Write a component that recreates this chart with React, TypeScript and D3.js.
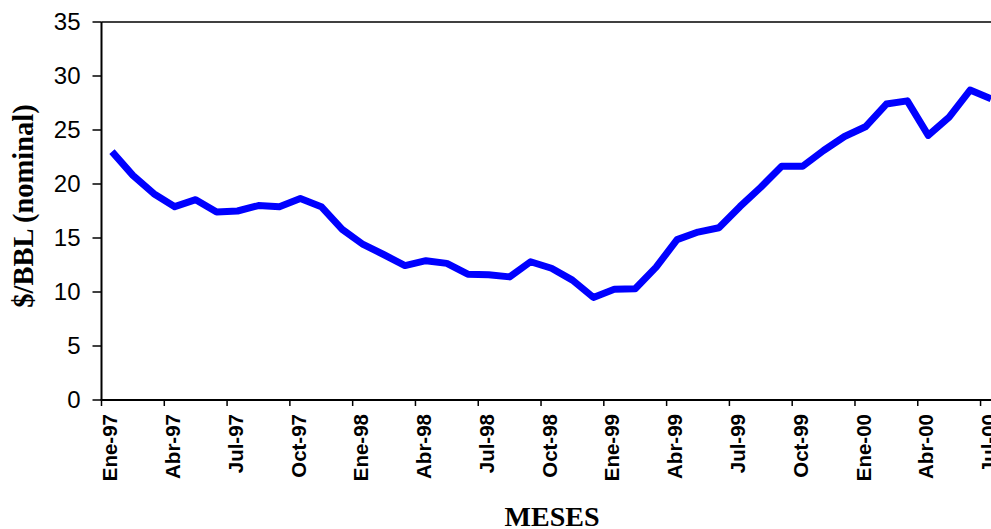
import React from 'react';
import * as d3 from 'd3';

// meses (Ene-97 .. Jul-00)
const months = [
  'Ene-97', 'Feb-97', 'Mar-97', 'Abr-97', 'May-97', 'Jun-97', 'Jul-97', 'Ago-97', 'Sep-97', 'Oct-97', 'Nov-97', 'Dic-97',
  'Ene-98', 'Feb-98', 'Mar-98', 'Abr-98', 'May-98', 'Jun-98', 'Jul-98', 'Ago-98', 'Sep-98', 'Oct-98', 'Nov-98', 'Dic-98',
  'Ene-99', 'Feb-99', 'Mar-99', 'Abr-99', 'May-99', 'Jun-99', 'Jul-99', 'Ago-99', 'Sep-99', 'Oct-99', 'Nov-99', 'Dic-99',
  'Ene-00', 'Feb-00', 'Mar-00', 'Abr-00', 'May-00', 'Jun-00', 'Jul-00',
];

// precio nominal $/BBL
const prices = [
  23.0, 20.8, 19.1, 17.9, 18.55, 17.4, 17.5, 18.0, 17.9, 18.65, 17.9, 15.8,
  14.4, 13.45, 12.45, 12.9, 12.65, 11.65, 11.6, 11.4, 12.8, 12.2, 11.1, 9.5,
  10.25, 10.3, 12.3, 14.85, 15.55, 15.95, 17.9, 19.7, 21.65, 21.65, 23.1, 24.4,
  25.3, 27.4, 27.7, 24.5, 26.2, 28.7, 27.9,
];

const yTicks = [0, 5, 10, 15, 20, 25, 30, 35];

export default function App() {
  const width = 991;
  const height = 529;
  const left = 101.5;
  const top = 22;
  const bottom = 400;
  const step = 20.93;

  const x = d3.scaleBand<string>()
    .domain(months)
    .range([left, left + step * months.length])
    .paddingInner(0)
    .paddingOuter(0);

  const y = d3.scaleLinear().domain([0, 35]).range([bottom, top]);

  const line = d3.line<number>()
    .x((d, i) => (x(months[i]) as number) + x.bandwidth() / 2)
    .y(d => y(d));

  const labelled = months.filter((m, i) => i % 3 === 0);
  const right = left + step * months.length;

  return (
    <svg width={width} height={height} style={{ position: 'absolute', left: 0, top: 0, background: '#fff' }}>
      {/* plot frame */}
      <line x1={left} x2={right} y1={top} y2={top} stroke="#000" strokeWidth={1.5} />
      <line x1={left} x2={left} y1={top} y2={bottom} stroke="#000" strokeWidth={2} />
      <line x1={left - 1} x2={right} y1={bottom} y2={bottom} stroke="#000" strokeWidth={2} />

      {/* y axis */}
      {yTicks.map(t => (
        <g key={t}>
          <line x1={left - 9} x2={left} y1={y(t)} y2={y(t)} stroke="#000" strokeWidth={1.5} />
          <text x={left - 21} y={y(t)} dy="0.35em" textAnchor="end"
            fontFamily="Arial, 'Liberation Sans', sans-serif" fontSize={24} fill="#000">{t}</text>
        </g>
      ))}

      {/* x axis */}
      {labelled.map(m => {
        const x0 = x(m) as number;
        const cx = x0 + x.bandwidth() / 2;
        return (
          <g key={m}>
            <line x1={x0} x2={x0} y1={bottom} y2={bottom + 6} stroke="#000" strokeWidth={1.5} />
            <text transform={`translate(${cx - 2},${bottom + 14}) rotate(-90)`} dy="0.35em" textAnchor="end"
              fontFamily="Arial, 'Liberation Sans', sans-serif" fontWeight="bold" fontSize={20.5} fill="#000">{m}</text>
          </g>
        );
      })}

      <path d={line(prices) || ''} fill="none" stroke="#0000ff" strokeWidth={7} strokeLinejoin="round" />

      {/* titles */}
      <text transform={`translate(33,206) rotate(-90)`} textAnchor="middle"
        fontFamily="'Times New Roman', 'Liberation Serif', serif" fontWeight="bold" fontSize={28.5} fill="#000">$/BBL (nominal)</text>
      <text x={552} y={526} textAnchor="middle"
        fontFamily="'Times New Roman', 'Liberation Serif', serif" fontWeight="bold" fontSize={28} fill="#000">MESES</text>
    </svg>
  );
}
